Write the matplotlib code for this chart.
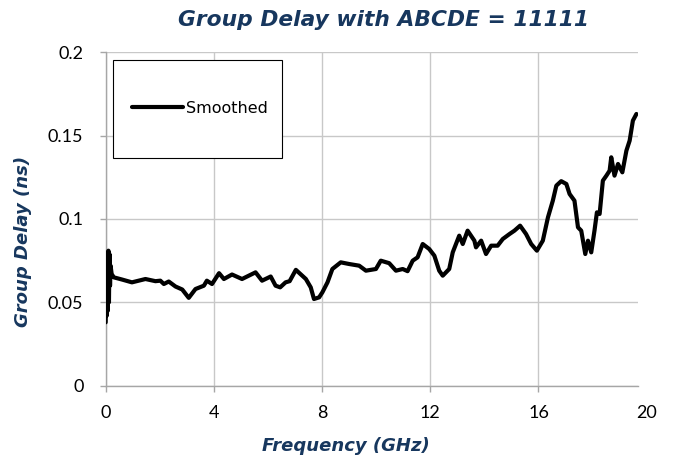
import matplotlib
matplotlib.use("Agg")
import matplotlib.pyplot as plt
from matplotlib.patches import Rectangle

# ---- data ----
freq_ghz = [0.0, 0.02, 0.04, 0.06, 0.08, 0.10, 0.12, 0.14, 0.16, 0.18, 0.22, 0.30,
            0.60, 0.97, 1.47, 1.84, 2.02, 2.15, 2.33, 2.58, 2.83, 3.07, 3.32, 3.63,
            3.74, 3.93, 4.19, 4.37, 4.67, 5.04, 5.54, 5.78, 6.10, 6.28, 6.45, 6.65,
            6.80, 7.03, 7.40, 7.58, 7.70, 7.89, 8.01, 8.20, 8.38, 8.69, 9.00, 9.37,
            9.62, 9.99, 10.17, 10.48, 10.73, 10.98, 11.16, 11.35, 11.53, 11.72, 11.96,
            12.15, 12.33, 12.46, 12.70, 12.83, 13.07, 13.20, 13.38, 13.63, 13.69, 13.88,
            14.06, 14.25, 14.49, 14.68, 14.93, 15.11, 15.32, 15.54, 15.73, 15.94, 16.16,
            16.35, 16.53, 16.66, 16.84, 17.03, 17.15, 17.33, 17.46, 17.58, 17.73, 17.83,
            17.95, 18.07, 18.16, 18.26, 18.38, 18.51, 18.63, 18.69, 18.81, 18.94, 19.10,
            19.25, 19.37, 19.49, 19.62]
group_delay_ns = [0.038, 0.070, 0.042, 0.078, 0.045, 0.081, 0.050, 0.079, 0.060, 0.072, 0.067, 0.065,
                  0.0637, 0.062, 0.064, 0.0627, 0.063, 0.061, 0.0625, 0.0595, 0.0577, 0.0527, 0.058, 0.060,
                  0.063, 0.061, 0.0675, 0.064, 0.0667, 0.064, 0.068, 0.063, 0.0655, 0.060, 0.059, 0.062,
                  0.0627, 0.0695, 0.064, 0.059, 0.052, 0.053, 0.056, 0.062, 0.070, 0.074, 0.073, 0.072,
                  0.069, 0.070, 0.075, 0.0735, 0.069, 0.070, 0.0687, 0.075, 0.077, 0.085, 0.082,
                  0.078, 0.069, 0.066, 0.070, 0.080, 0.090, 0.085, 0.093, 0.087, 0.083, 0.087,
                  0.079, 0.084, 0.084, 0.088, 0.091, 0.093, 0.096, 0.091, 0.085, 0.081, 0.087,
                  0.101, 0.111, 0.120, 0.1227, 0.121, 0.115, 0.111, 0.095, 0.093, 0.079, 0.087,
                  0.080, 0.093, 0.104, 0.103, 0.123, 0.126, 0.129, 0.137, 0.126, 0.133, 0.128,
                  0.141, 0.147, 0.159, 0.163]
series_name = "Smoothed"
title_text = "Group Delay with ABCDE = 11111"
x_label = "Frequency (GHz)"
y_label = "Group Delay (ns)"
x_ticks = [0, 4, 8, 12, 16]
x_end_label = "20"
y_ticks = [0, 0.05, 0.1, 0.15, 0.2]
y_tick_labels = ["0", "0.05", "0.1", "0.15", "0.2"]

navy = "#17375E"
grid_c = "#C8C8C8"
axis_c = "#A6A6A6"
W, H = 675, 466

fig = plt.figure(figsize=(6.75, 4.66), dpi=100)
ax = fig.add_axes([105.7 / W, 1 - 385.7 / H, (638.3 - 105.7) / W, (385.7 - 52.3) / H])

ax.plot(freq_ghz, group_delay_ns, color="black", lw=3.0, solid_joinstyle="round",
        solid_capstyle="round", label=series_name, zorder=3)

ax.set_xlim(0, 19.69)
ax.set_ylim(0, 0.2)
ax.set_xticks(x_ticks)
ax.set_yticks(y_ticks)
ax.set_yticklabels(y_tick_labels)
ax.grid(True, color=grid_c, lw=1.0)
ax.set_axisbelow(True)
for s in ("top", "right"):
    ax.spines[s].set_visible(False)
for s in ("left", "bottom"):
    ax.spines[s].set_color(axis_c)
    ax.spines[s].set_linewidth(1.0)
tick_fs = 13
ax.tick_params(axis="both", direction="out", length=4, width=1, color=axis_c,
               labelsize=tick_fs, labelcolor="black")
ax.tick_params(axis="x", pad=10)
ax.tick_params(axis="y", pad=12)
for lab in ax.get_xticklabels() + ax.get_yticklabels():
    lab.set_fontfamily("Lato")

# last x label placed beyond the axis end, as in the reference
ax.annotate(x_end_label, xy=(20, 0), xycoords=("data", "axes fraction"),
            xytext=(0, -14), textcoords="offset points", ha="center", va="top",
            fontsize=tick_fs, fontfamily="Lato", annotation_clip=False)

fig.text(384 / W, 1 - 20 / H, title_text, ha="center", va="center",
         fontsize=15.7, fontweight="bold", fontstyle="italic", color=navy,
         fontfamily="DejaVu Sans")
fig.text(346 / W, 1 - 446 / H, x_label, ha="center", va="center",
         fontsize=13, fontweight="bold", fontstyle="italic", color=navy,
         fontfamily="DejaVu Sans")
fig.text(23 / W, 1 - 241 / H, y_label, ha="center", va="center", rotation=90,
         fontsize=13, fontweight="bold", fontstyle="italic", color=navy,
         fontfamily="DejaVu Sans")

# legend box (frame drawn as a rectangle, entry placed inside it)
box = Rectangle((112.7 / W, 1 - 158.3 / H), 169 / W, 98.3 / H, transform=fig.transFigure,
                facecolor="white", edgecolor="black", lw=0.8, zorder=4, clip_on=False)
ax.add_patch(box)
leg = ax.legend(loc="center left", bbox_to_anchor=(131.7 / W, 1 - 108.3 / H),
                bbox_transform=fig.transFigure, borderaxespad=0, borderpad=0,
                prop={"family": "DejaVu Sans", "size": 11.5},
                frameon=False, handlelength=3.23, handletextpad=0.2)
leg.set_zorder(5)

fig.savefig("out.png", dpi=100)
